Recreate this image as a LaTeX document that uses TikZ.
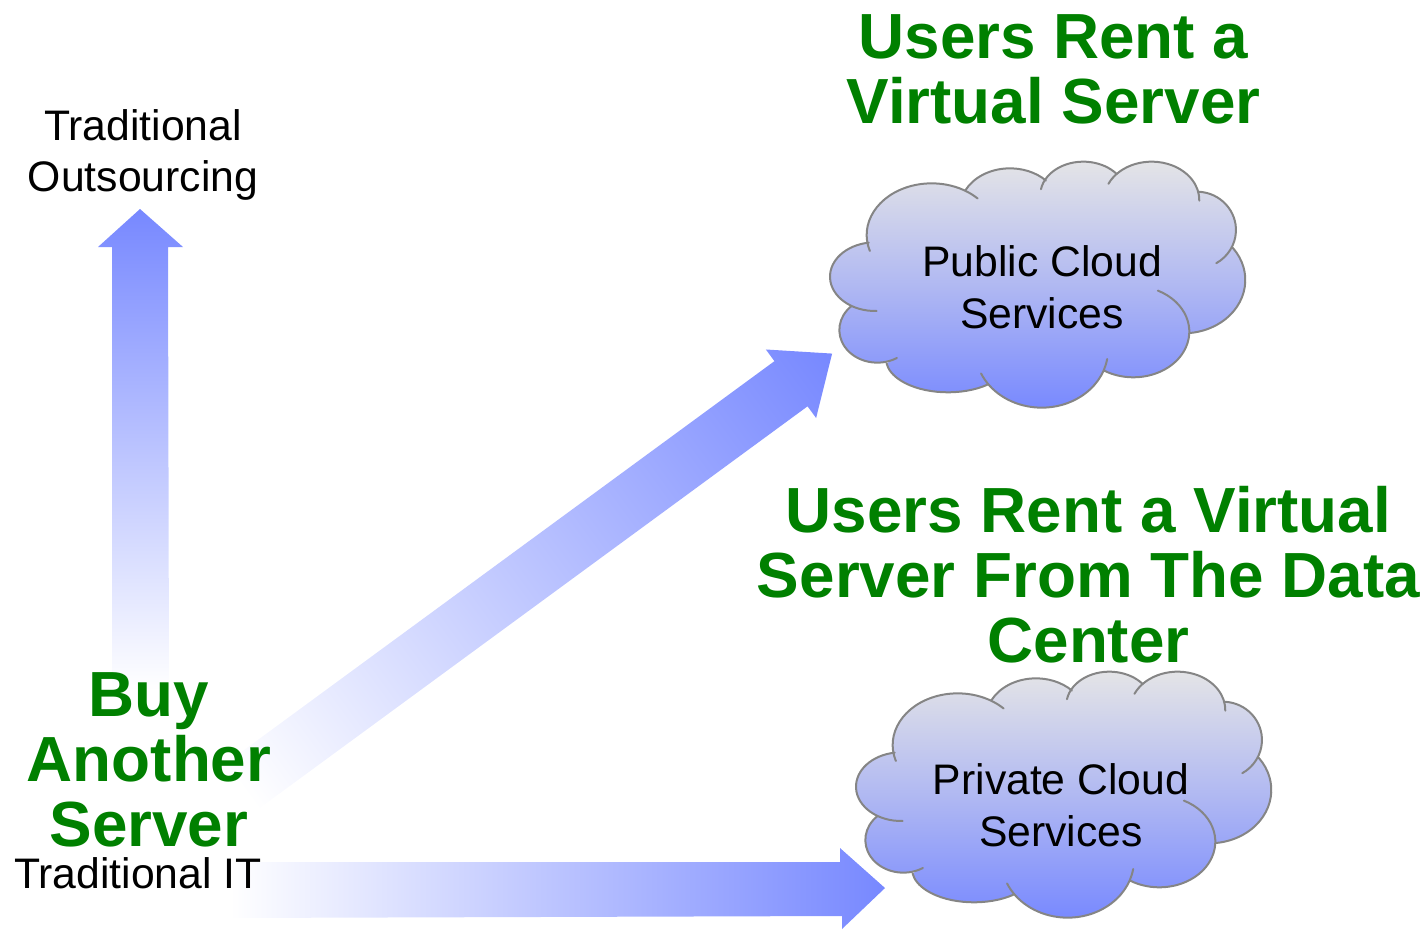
\documentclass[tikz,border=0pt]{standalone}
\usepackage{fontspec}
\setmainfont{Liberation Sans}
\definecolor{arrowblue}{HTML}{7788FF}
\definecolor{cloudtop}{HTML}{E6E6E6}
\definecolor{cloudedge}{HTML}{858585}
\definecolor{headgreen}{HTML}{008000}
\tikzset{
  blockarrow/.style={draw=none},
  headtext/.style={font=\fontsize{63.8}{65}\selectfont\bfseries,text=headgreen,align=center,inner sep=0pt},
  labeltext/.style={font=\fontsize{42.7}{51.5}\selectfont,text=black,align=center,inner sep=0pt},
  lobe/.style={draw=cloudedge,line width=2pt,line cap=round,fill=none},
}
% one lobe of the cloud: centre x, centre y, x radius, y radius, start, end angle
\newcommand{\lb}[6]{([shift={(#1,#2)}]#5:#3 and #4) arc[start angle=#5,end angle=#6,x radius=#3,y radius=#4]}
\newcommand{\lobeA}{\lb{335}{255}{195}{155}{162}{315}}
\newcommand{\lobeB}{\lb{570}{175}{150}{120}{207}{316}}
\newcommand{\lobeC}{\lb{790}{135}{129}{100}{190}{321}}
\newcommand{\lobeD}{\lb{995}{150}{143}{115}{205}{361}}
\newcommand{\lobeE}{\lb{1130}{240}{118}{115}{273}{420}}
\newcommand{\lobeF}{\lb{1090}{390}{186}{160}{-37}{84}}
\newcommand{\lobeG}{\lb{940}{545}{168}{137}{-64}{121}}
\newcommand{\lobeH}{\lb{665}{600}{199}{173}{9}{156}}
\newcommand{\lobeI}{\lb{384}{627}{186}{100}{49.5}{172.5}}
\newcommand{\lobeJ}{\lb{172}{540}{114}{98}{59}{226.6}}
\newcommand{\lobeK}{\lb{165}{380}{135}{103}{88}{262}}
\newcommand{\cloudshape}{%
  \path[top color=cloudtop,bottom color=arrowblue,middle color=cloudtop!52!arrowblue]
    \lobeA -- \lobeB -- \lobeC -- \lobeD -- \lobeE -- \lobeF
    -- \lobeG -- \lobeH -- \lobeI -- \lobeJ -- \lobeK -- cycle;
  \draw[lobe] \lobeA;
  \draw[lobe] \lobeB;
  \draw[lobe] \lobeC;
  \draw[lobe] \lobeD;
  \draw[lobe] \lobeE;
  \draw[lobe] \lobeF;
  \draw[lobe] \lobeG;
  \draw[lobe] \lobeH;
  \draw[lobe] \lobeI;
  \draw[lobe] \lobeJ;
  \draw[lobe] \lobeK;
}
\begin{document}
\begin{tikzpicture}[x=1pt,y=-1pt]
\useasboundingbox (0,0) rectangle (1423,929);
% vertical arrow
\path[blockarrow,top color=arrowblue,bottom color=white]
  (112,690) -- (112,247) -- (98,247) -- (140,209) -- (183,247) -- (168,247) -- (169,690) -- cycle;
% diagonal arrow
\path[blockarrow,transform canvas={shift={(241,787)},rotate=36.25},left color=white,right color=arrowblue]
  (0,-28) -- (682,-28) -- (682,-42.5) -- (733,0) -- (682,42.5) -- (682,28) -- (0,28) -- cycle;
% horizontal arrow
\path[blockarrow,left color=white,right color=arrowblue]
  (230,862) -- (840,862) -- (840,848) -- (885,888) -- (842,929) -- (842,916) -- (230,918) -- cycle;
% clouds
\begin{scope}[shift={(820,150)},x=0.3333pt,y=-0.3333pt]
  \cloudshape
\end{scope}
\begin{scope}[shift={(846,660)},x=0.3333pt,y=-0.3333pt]
  \cloudshape
\end{scope}
% text
\node[headtext] (h1) at (1053.5,69) {Users Rent a\\Virtual Server};
\node[headtext] (h2) at (1088.5,575) {Users Rent a Virtual\\Server From The Data\\Center};
\node[headtext] (h3) at (149,760) {Buy\\Another\\Server};
\node[labeltext] (l1) at (143,155) {Traditional\\Outsourcing};
\node[labeltext] (l2) at (138,873) {Traditional IT};
\node[labeltext] (c1) at (1042,287) {Public Cloud\\Services};
\node[labeltext] (c2) at (1061,805) {Private Cloud\\Services};
\end{tikzpicture}
\end{document}
